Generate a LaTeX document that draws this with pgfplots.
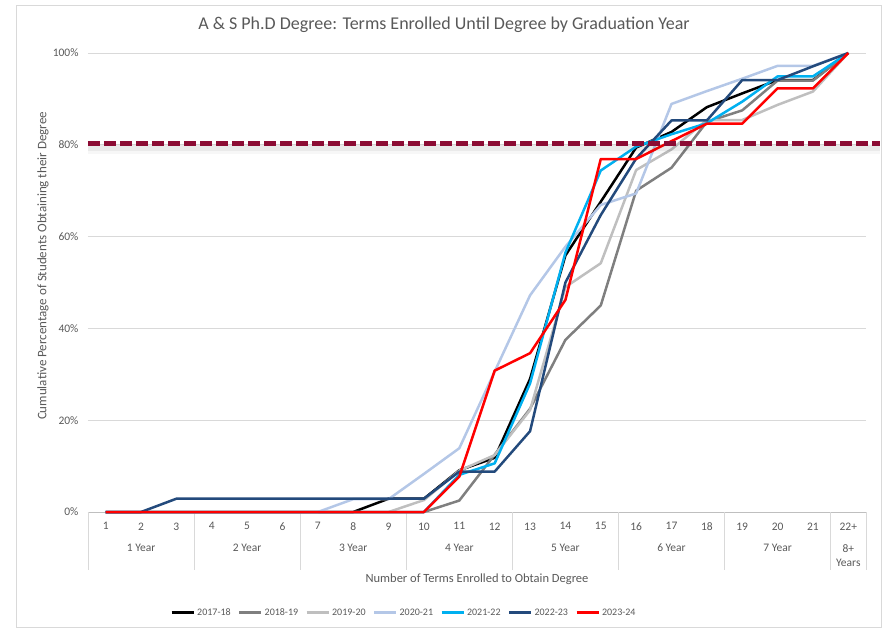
\documentclass[border=0pt]{standalone}
\usepackage{fontspec}
\setmainfont{Carlito}
\usepackage{pgfplots}
\pgfplotsset{compat=1.18}
\usepackage{pgfplotstable}
\definecolor{textgrey}{HTML}{595959}
\definecolor{gridgrey}{HTML}{D9D9D9}
\definecolor{axisgrey}{HTML}{BFBFBF}
\definecolor{cA}{HTML}{000000}
\definecolor{cB}{HTML}{7F7F7F}
\definecolor{cC}{HTML}{BFBFBF}
\definecolor{cD}{HTML}{B4C7E7}
\definecolor{cE}{HTML}{00B0F0}
\definecolor{cF}{HTML}{234A7C}
\definecolor{cG}{HTML}{FF0000}
\definecolor{maroon}{RGB}{140,12,52}

\pgfplotstableread{
term a b c d e f g
1  0    0    0    0    0    0    0
2  0    0    0    0    0    0    0
3  0    0    0    0    0    2.9  0
4  0    0    0    0    0    2.9  0
5  0    0    0    0    0    2.9  0
6  0    0    0    0    0    2.9  0
7  0    0    0    0    0    2.9  0
8  0    0    0    2.8  0    2.9  0
9  2.9  0    0    2.8  0    2.9  0
10 2.9  0    2.6  8.3  0    2.9  0
11 9.1  2.5  9.0  13.9 8.1  8.8  7.7
12 11.8 12.5 12.4 30.6 10.6 8.8  30.8
13 29.0 22.5 22.2 47.2 28.0 17.6 34.6
14 55.9 37.5 49.0 57.8 56.5 50.0 46.2
15 67.6 45.0 54.2 66.9 74.4 64.7 76.9
16 79.4 70.0 74.5 69.4 79.6 77.0 76.9
17 82.8 75.0 79.0 88.9 82.3 85.3 80.8
18 88.2 85.0 85.4 91.7 84.7 85.3 84.6
19 91.2 87.5 85.4 94.4 89.4 94.1 84.6
20 94.1 94.0 88.7 97.2 94.9 94.1 92.3
21 94.1 94.0 91.6 97.2 94.9 97.1 92.3
22 100  100  100  100  100  100  100
}\data

\begin{document}
\begin{tikzpicture}[x=1pt,y=1pt]
\useasboundingbox (-88,-118) rectangle (796,512);
\draw[color=gridgrey, line width=0.8pt] (-72,-115) rectangle (793,507);
\begin{axis}[
  at={(0,0)}, anchor=south west,
  width=778pt, height=459pt, scale only axis,
  xmin=0.5, xmax=22.5, ymin=0, ymax=100,
  xtick={1,...,22},
  xticklabels={1,2,3,4,5,6,7,8,9,10,11,12,13,14,15,16,17,18,19,20,21,22+},
  ytick={0,20,...,100},
  yticklabel={\pgfmathprintnumber{\tick}\%},
  /pgf/number format/assume math mode=true,
  major tick length=0pt,
  axis line style={draw=none},
  ymajorgrids,
  grid style={color=gridgrey, line width=0.75pt},
  tick label style={font=\fontsize{11.5}{13}\selectfont, text=textgrey},
  yticklabel style={xshift=-6pt},
  xticklabel style={yshift=-7pt},
  clip=false,
  legend columns=7,
  legend style={at={(rel axis cs:0.406,-0.22)}, anchor=center, draw=none,
    font=\fontsize{10}{12}\selectfont, text=textgrey,
    /tikz/every odd column/.append style={column sep=0pt},
    /tikz/every even column/.append style={column sep=5pt}},
  legend image code/.code={\draw[#1, line width=3pt] (0pt,0pt) -- (22pt,0pt);},
  every axis plot/.append style={line width=2.5pt, line join=round},
]
\draw[color=axisgrey, line width=0.75pt] (axis cs:0.5,0) -- (axis cs:22.5,0);
\draw[color=gridgrey, line width=0.75pt] (axis cs:0.5,0) -- (axis cs:0.5,-12.64);
\draw[color=gridgrey, line width=0.75pt] (axis cs:3.5,0) -- (axis cs:3.5,-12.64);
\draw[color=gridgrey, line width=0.75pt] (axis cs:6.5,0) -- (axis cs:6.5,-12.64);
\draw[color=gridgrey, line width=0.75pt] (axis cs:9.5,0) -- (axis cs:9.5,-12.64);
\draw[color=gridgrey, line width=0.75pt] (axis cs:12.5,0) -- (axis cs:12.5,-12.64);
\draw[color=gridgrey, line width=0.75pt] (axis cs:15.5,0) -- (axis cs:15.5,-12.64);
\draw[color=gridgrey, line width=0.75pt] (axis cs:18.5,0) -- (axis cs:18.5,-12.64);
\draw[color=gridgrey, line width=0.75pt] (axis cs:21.5,0) -- (axis cs:21.5,-12.64);
\draw[color=gridgrey, line width=0.75pt] (axis cs:22.5,0) -- (axis cs:22.5,-12.64);

\addplot[color=cA] table[x=term,y=a]{\data};
\addplot[color=cB] table[x=term,y=b]{\data};
\addplot[color=cC] table[x=term,y=c]{\data};
\addplot[color=cD] table[x=term,y=d]{\data};
\addplot[color=cE] table[x=term,y=e]{\data};
\addplot[color=cF] table[x=term,y=f]{\data};
\addplot[color=cG] table[x=term,y=g]{\data};
\legend{2017-18,2018-19,2019-20,2020-21,2021-22,2022-23,2023-24}

\addplot[color=black, opacity=0.03, line width=10pt, forget plot] coordinates {(0.5,79.1) (22.9,79.1)};
\addplot[color=black, opacity=0.05, line width=6pt, forget plot] coordinates {(0.5,79.3) (22.9,79.3)};
\addplot[color=maroon, line width=4.6pt, dash pattern=on 12pt off 4pt, line cap=butt, forget plot] coordinates {(0.5,80.3) (22.9,80.3)};

\begin{scope}[every node/.style={font=\fontsize{11.5}{14}\selectfont, text=textgrey}]
\node at (axis cs:2,-7.84) {1 Year};
\node at (axis cs:5,-7.84) {2 Year};
\node at (axis cs:8,-7.84) {3 Year};
\node at (axis cs:11,-7.84) {4 Year};
\node at (axis cs:14,-7.84) {5 Year};
\node at (axis cs:17,-7.84) {6 Year};
\node at (axis cs:20,-7.84) {7 Year};
\node[align=center] at (axis cs:22,-9.4) {8+\\Years};
\end{scope}
\node[font=\fontsize{18}{22}\selectfont, text=textgrey] at (rel axis cs:0.4576,1.061) {A \& S Ph.D Degree: Terms Enrolled Until Degree by Graduation Year};
\node[rotate=90, font=\fontsize{13}{15}\selectfont, text=textgrey] at (rel axis cs:-0.0578,0.536) {Cumulative Percentage of Students Obtaining their Degree};
\node[font=\fontsize{12.5}{15}\selectfont, text=textgrey] at (rel axis cs:0.5,-0.146) {Number of Terms Enrolled to Obtain Degree};
\end{axis}
\end{tikzpicture}
\end{document}
